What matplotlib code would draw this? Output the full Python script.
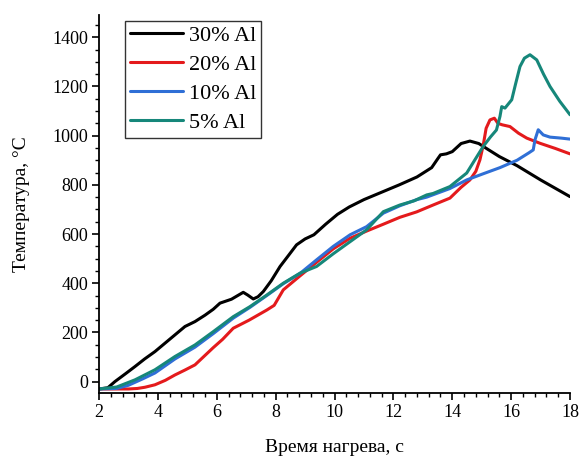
import matplotlib
matplotlib.use("Agg")
import matplotlib.pyplot as plt
from matplotlib.ticker import MultipleLocator

plt.rcParams['font.family'] = ['Liberation Serif', 'DejaVu Serif']

# Heating curves: time (s) vs temperature (°C)
t_30 = [2.0, 2.3, 2.54, 2.9, 3.22, 3.55, 3.9, 4.25, 4.58, 4.92, 5.26, 5.6, 5.88, 6.11, 6.5,
        6.9, 7.05, 7.24, 7.4, 7.58, 7.85, 8.15, 8.45, 8.71, 9.0, 9.3, 9.7, 10.1, 10.5, 11.0,
        11.6, 12.2, 12.8, 13.3, 13.5, 13.6, 13.8, 14.0, 14.3, 14.6, 14.9, 15.2, 15.6, 16.2,
        17.0, 18.0]
T_30 = [-30, -25, 0, 32, 61, 92, 122, 157, 190, 224, 244, 270, 294, 319, 335,
        363, 352, 336, 345, 366, 410, 468, 515, 556, 580, 597, 640, 680, 710, 740,
        770, 800, 832, 870, 905, 922, 926, 935, 968, 978, 968, 945, 915, 878,
        820, 752]

t_20 = [2.0, 2.5, 3.0, 3.3, 3.56, 3.9, 4.25, 4.58, 4.92, 5.26, 5.88, 6.2, 6.56, 7.1, 7.7,
        7.95, 8.26, 8.83, 9.39, 9.96, 10.53, 11.09, 11.66, 12.22, 12.79, 13.35, 13.92, 14.3,
        14.6, 14.8, 14.94, 15.05, 15.15, 15.28, 15.43, 15.55, 15.7, 15.96, 16.25, 16.53,
        16.98, 17.5, 18.0]
T_20 = [-30, -30, -30, -28, -23, -13, 5, 27, 47, 68, 138, 172, 217, 250, 291,
        310, 373, 430, 485, 540, 583, 612, 640, 668, 690, 718, 746, 790,
        820, 855, 902, 960, 1030, 1064, 1071, 1050, 1044, 1037, 1010, 990,
        969, 948, 926]

t_10 = [2.0, 2.6, 3.0, 3.5, 3.9, 4.58, 5.26, 5.88, 6.56, 7.13, 7.7, 8.26, 8.83, 9.39, 9.96,
        10.53, 11.09, 11.66, 12.22, 12.8, 13.13, 13.92, 14.49, 15.05, 15.62, 16.2, 16.6,
        16.75, 16.81, 16.92, 17.09, 17.32, 17.7, 18.0]
T_10 = [-30, -28, -15, 12, 35, 92, 140, 195, 258, 302, 350, 398, 440, 495, 550,
        597, 630, 685, 715, 740, 750, 785, 820, 845, 870, 900, 930,
        942, 983, 1024, 1003, 994, 990, 986]

t_5 = [2.0, 2.6, 3.22, 3.9, 4.58, 5.26, 5.88, 6.56, 7.13, 7.7, 8.26, 8.83, 9.39, 9.96,
       10.53, 11.09, 11.66, 12.22, 12.7, 13.13, 13.35, 13.92, 14.49, 15.05, 15.3, 15.5,
       15.62, 15.68, 15.79, 16.02, 16.15, 16.3, 16.45, 16.64, 16.87, 17.1, 17.32, 17.65, 18.0]
T_5 = [-30, -22, 7, 48, 102, 149, 203, 264, 305, 352, 400, 441, 468, 520,
       569, 617, 691, 718, 735, 759, 765, 793, 848, 956, 995, 1023,
       1078, 1118, 1112, 1146, 1210, 1281, 1315, 1329, 1308, 1250, 1200, 1140, 1085]

labels = ['30% Al', '20% Al', '10% Al', '5% Al']
colors = ['#000000', '#e41a1c', '#2f6fd6', '#16877a']

fig = plt.figure(figsize=(5.79, 4.59), dpi=100)
ax = fig.add_axes([0.171, 0.144, 0.8135, 0.823])

for t, T, lab, c in zip([t_30, t_20, t_10, t_5], [T_30, T_20, T_10, T_5], labels, colors):
    ax.plot(t, T, color=c, lw=2.2, label=lab, solid_joinstyle='round',
            solid_capstyle='round')

ax.set_xlim(2, 18)
ax.set_ylim(-46, 1490)
ax.xaxis.set_major_locator(MultipleLocator(2))
ax.xaxis.set_minor_locator(MultipleLocator(0.4))
ax.yaxis.set_major_locator(MultipleLocator(200))
ax.yaxis.set_minor_locator(MultipleLocator(50))

ax.spines['top'].set_visible(False)
ax.spines['right'].set_visible(False)
for s in ('left', 'bottom'):
    ax.spines[s].set_linewidth(1.3)

ax.tick_params(which='major', direction='out', length=5, width=1.2, labelsize=13, pad=3)
ax.tick_params(which='minor', direction='out', length=3, width=1.0)

ax.set_xlabel('Время нагрева, с', fontsize=14, labelpad=13)
ax.set_ylabel('Температура, °C', fontsize=14, labelpad=16)

leg = fig.legend(loc='upper left', bbox_to_anchor=(125 / 579, 1 - 20.7 / 459),
                 borderaxespad=0, fontsize=16, frameon=True, fancybox=False,
                 handlelength=2.4, handletextpad=0.25, labelspacing=0.38,
                 borderpad=0.22)
leg.get_frame().set_edgecolor('black')
leg.get_frame().set_linewidth(1.0)

fig.savefig('out.png', dpi=100)
